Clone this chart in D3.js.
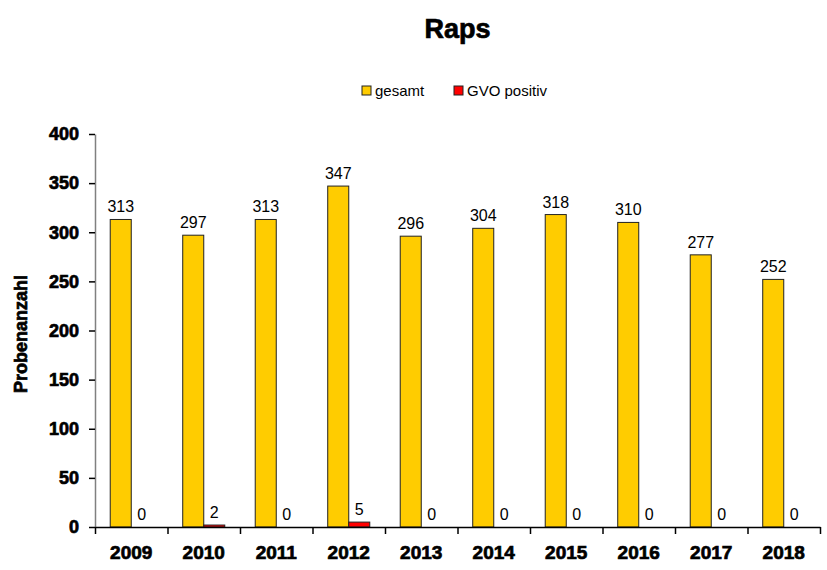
<!DOCTYPE html>
<html>
<head>
<meta charset="utf-8">
<script src="https://cdn.jsdelivr.net/npm/d3@7"></script>
<style>
  body { margin: 0; background: #fff; }
  text { font-family: "Liberation Sans", Arial, sans-serif; }
</style>
</head>
<body>
<svg></svg>
<script>
const years = ['2009', '2010', '2011', '2012', '2013', '2014', '2015', '2016', '2017', '2018'];
const gesamt = [313, 297, 313, 347, 296, 304, 318, 310, 277, 252];
const gvoPositiv = [0, 2, 0, 5, 0, 0, 0, 0, 0, 0];
const seriesNames = ['gesamt', 'GVO positiv'];
const seriesColors = ['#FFCC00', '#FF0000'];
const yTicks = [0, 50, 100, 150, 200, 250, 300, 350, 400];

const width = 827;
const height = 570;
const plotLeft = 95, plotRight = 820, plotTop = 134, plotBottom = 527;

const svg = d3.select('svg')
    .attr('width', width)
    .attr('height', height);

const xScale = d3.scaleBand()
    .domain(years)
    .range([plotLeft, plotRight])
    .paddingInner(0.42)
    .paddingOuter(0.21);

const inner = d3.scaleBand()
    .domain(seriesNames)
    .range([0, xScale.bandwidth()]);

const yScale = d3.scaleLinear()
    .domain([0, 400])
    .range([plotBottom, plotTop]);

const data = years.map((y, i) => ({ year: y, values: [gesamt[i], gvoPositiv[i]] }));

const groups = svg.selectAll('g.grp')
    .data(data)
    .enter()
    .append('g')
    .attr('class', 'grp')
    .attr('transform', d => 'translate(' + xScale(d.year) + ',0)');

groups.selectAll('rect')
    .data(d => d.values.map((v, j) => ({ v: v, j: j })))
    .enter()
    .append('rect')
    .attr('x', d => inner(seriesNames[d.j]))
    .attr('width', inner.bandwidth())
    .attr('y', d => yScale(d.v))
    .attr('height', d => yScale(0) - yScale(d.v))
    .attr('fill', d => seriesColors[d.j])
    .attr('stroke', d => d.v > 0 ? '#222' : 'none')
    .attr('stroke-width', 1);

groups.selectAll('text.lbl')
    .data(d => d.values.map((v, j) => ({ v: v, j: j })))
    .enter()
    .append('text')
    .attr('class', 'lbl')
    .attr('x', d => inner(seriesNames[d.j]) + inner.bandwidth() / 2)
    .attr('y', d => yScale(d.v) - 7)
    .style('text-anchor', 'middle')
    .style('font-size', '16px')
    .style('fill', '#000')
    .text(d => d.v);

// heavy bold look, like the original
function heavy(sel, size) {
    sel.style('font-size', size + 'px')
        .style('font-weight', 'bold')
        .style('font-family', '"Liberation Sans", Arial, sans-serif')
        .style('stroke', '#000')
        .style('stroke-width', '0.7px')
        .attr('fill', '#000');
}

// axes
const yAxis = d3.axisLeft(yScale)
    .tickValues(yTicks)
    .tickSize(6)
    .tickSizeOuter(0)
    .tickPadding(10);

const yg = svg.append('g')
    .attr('transform', 'translate(' + plotLeft + ',0)')
    .call(yAxis);
yg.select('.domain').attr('stroke', '#808080').attr('stroke-width', 1.5);
yg.selectAll('.tick line').attr('stroke', '#000').attr('stroke-width', 1.5);
yg.selectAll('.tick text').call(heavy, 18);

const xTickScale = d3.scaleLinear().domain([0, years.length]).range([plotLeft, plotRight]);
const xAxis = d3.axisBottom(xTickScale)
    .tickValues(d3.range(0, years.length + 1))
    .tickSize(7)
    .tickSizeOuter(0)
    .tickFormat('');

const xg = svg.append('g')
    .attr('transform', 'translate(0,' + plotBottom + ')')
    .call(xAxis);
xg.select('.domain').attr('stroke', '#000').attr('stroke-width', 1.5);
xg.selectAll('.tick line').attr('stroke', '#000').attr('stroke-width', 1.5);

svg.append('g')
    .selectAll('text')
    .data(years)
    .enter()
    .append('text')
    .attr('x', d => xScale(d) + xScale.bandwidth() / 2)
    .attr('y', plotBottom + 32)
    .style('text-anchor', 'middle')
    .call(heavy, 19)
    .text(d => d);

// title
svg.append('text')
    .attr('x', (plotLeft + plotRight) / 2)
    .attr('y', 38)
    .style('text-anchor', 'middle')
    .call(heavy, 27)
    .text('Raps');

// y-axis title
svg.append('text')
    .attr('transform', 'rotate(-90)')
    .attr('x', -334)
    .attr('y', 27)
    .style('text-anchor', 'middle')
    .call(heavy, 18)
    .text('Probenanzahl');

// legend
const legendX = [362, 454];
const legend = svg.append('g')
    .selectAll('g')
    .data(seriesNames)
    .enter()
    .append('g')
    .attr('transform', (d, i) => 'translate(' + legendX[i] + ',86)');
legend.append('rect')
    .attr('width', 9)
    .attr('height', 9)
    .attr('fill', (d, i) => seriesColors[i])
    .attr('stroke', '#222');
legend.append('text')
    .attr('x', 13)
    .attr('y', 10)
    .style('font-size', '15px')
    .text(d => d);
</script>
</body>
</html>
